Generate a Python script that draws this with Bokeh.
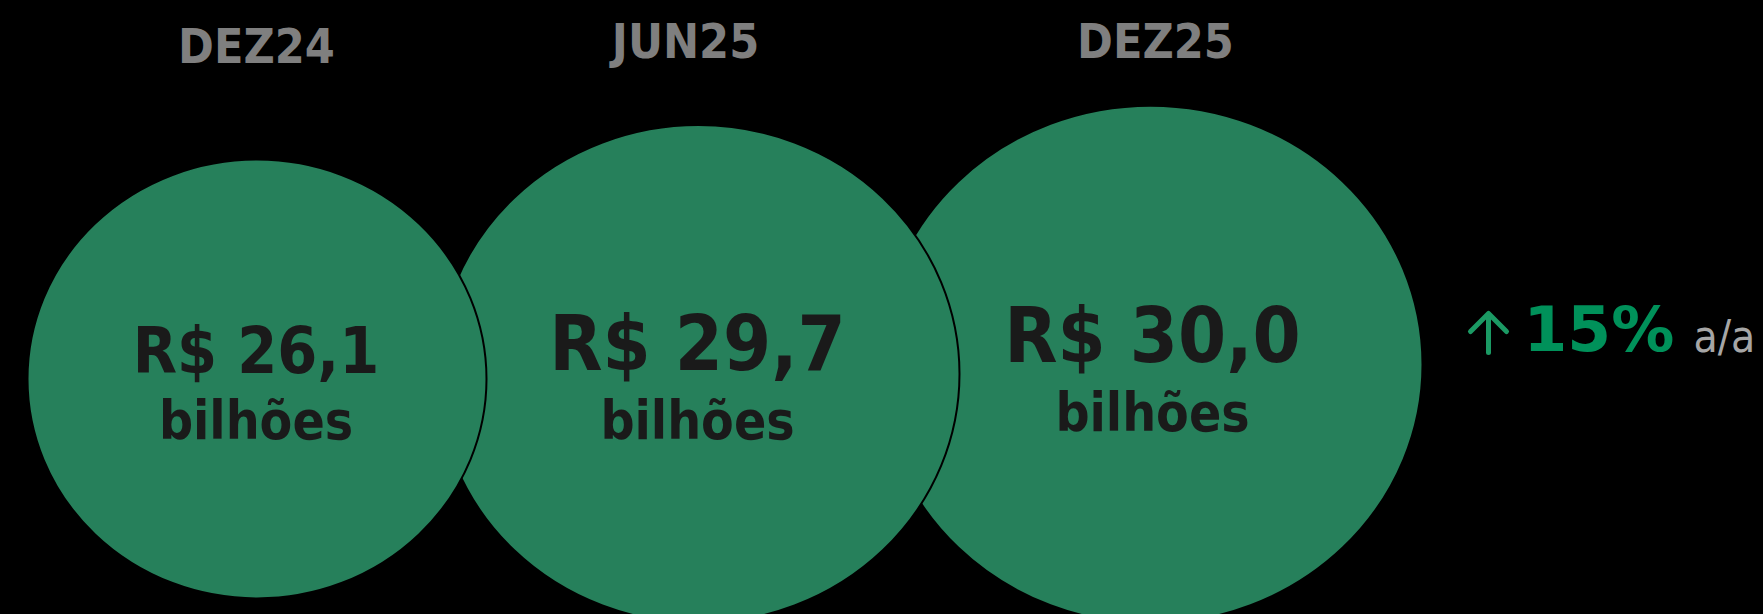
from bokeh.plotting import figure
from bokeh.models import ColumnDataSource, Range1d
from bokeh.core.properties import value
from bokeh.embed import file_html
from bokeh.resources import INLINE

# ---- data ----
periods = ["DEZ24", "JUN25", "DEZ25"]
values_bi = [26.1, 29.7, 30.0]
unit_label = "bilhões"
growth_pct = 15
growth_suffix = "a/a"

# ---- layout (pixel space of the page) ----
cx = [256.5, 698, 1150]
cy = [378.5, 373.5, 364]
bw = [459, 522, 544]
bh = [439, 498, 518]
title_x = [256, 685, 1155]
title_y = [45, 40, 40]
label_x = [255.5, 697, 1152]
value_y = [350, 343, 335]
unit_y = [420, 419.5, 412]
value_size = ["64px", "77px", "77px"]

FONT = "DejaVu Sans Condensed"
GREEN = "#26805B"
DARK = "#1A1A1A"
GREY = "#7F7F7F"

W, H = 1763, 614
p = figure(width=W, height=H, output_backend="svg", toolbar_location=None,
           x_range=Range1d(0, W), y_range=Range1d(H, 0),
           min_border=0, background_fill_color="black", border_fill_color="black")
p.axis.visible = False
p.grid.visible = False
p.outline_line_color = None

value_labels = ["R$ " + f"{v:.1f}".replace(".", ",") for v in values_bi]

src = ColumnDataSource(dict(
    x=cx[::-1], y=cy[::-1], w=bw[::-1], h=bh[::-1],
))
p.ellipse(x="x", y="y", width="w", height="h", source=src,
          fill_color=GREEN, line_color="black", line_width=2)

lab = ColumnDataSource(dict(
    tx=title_x, ty=title_y, period=periods,
    lx=label_x, vy=value_y, uy=unit_y, val=value_labels,
    unit=[unit_label] * len(periods), vs=value_size,
))
p.text(x="tx", y="ty", text="period", source=lab, text_font=value(FONT),
       text_font_style="bold", text_font_size="48px", text_color=GREY,
       text_align="center", text_baseline="alphabetic")
p.text(x="lx", y="vy", text="val", source=lab, text_font=value(FONT),
       text_font_style="bold", text_font_size="vs", text_color=DARK,
       text_align="center", text_baseline="alphabetic")
p.text(x="lx", y="uy", text="unit", source=lab, text_font=value(FONT),
       text_font_style="bold", text_font_size="53px", text_color=DARK,
       text_align="center", text_baseline="alphabetic")

# growth annotation: up-arrow icon
p.multi_line(xs=[[1488, 1488], [1470, 1488, 1506]], ys=[[352, 314], [331, 313, 331]],
             line_color="#1B9A64", line_width=5, line_cap="round", line_join="round")
p.text(x=[1523], y=[329], text=[f"{growth_pct}%"], text_font=value("DejaVu Sans"),
       text_font_style="bold", text_font_size="63px", text_color="#00915A",
       text_align="left", text_baseline="alphabetic")
p.text(x=[1693], y=[336], text=[growth_suffix], text_font=value(FONT),
       text_font_size="44px", text_color="#A6A6A6",
       text_align="left", text_baseline="alphabetic")

html = file_html(p, INLINE)
html = html.replace("</head>", "<style>html,body{background:#000;}</style></head>", 1)
open("out.html", "w").write(html)
